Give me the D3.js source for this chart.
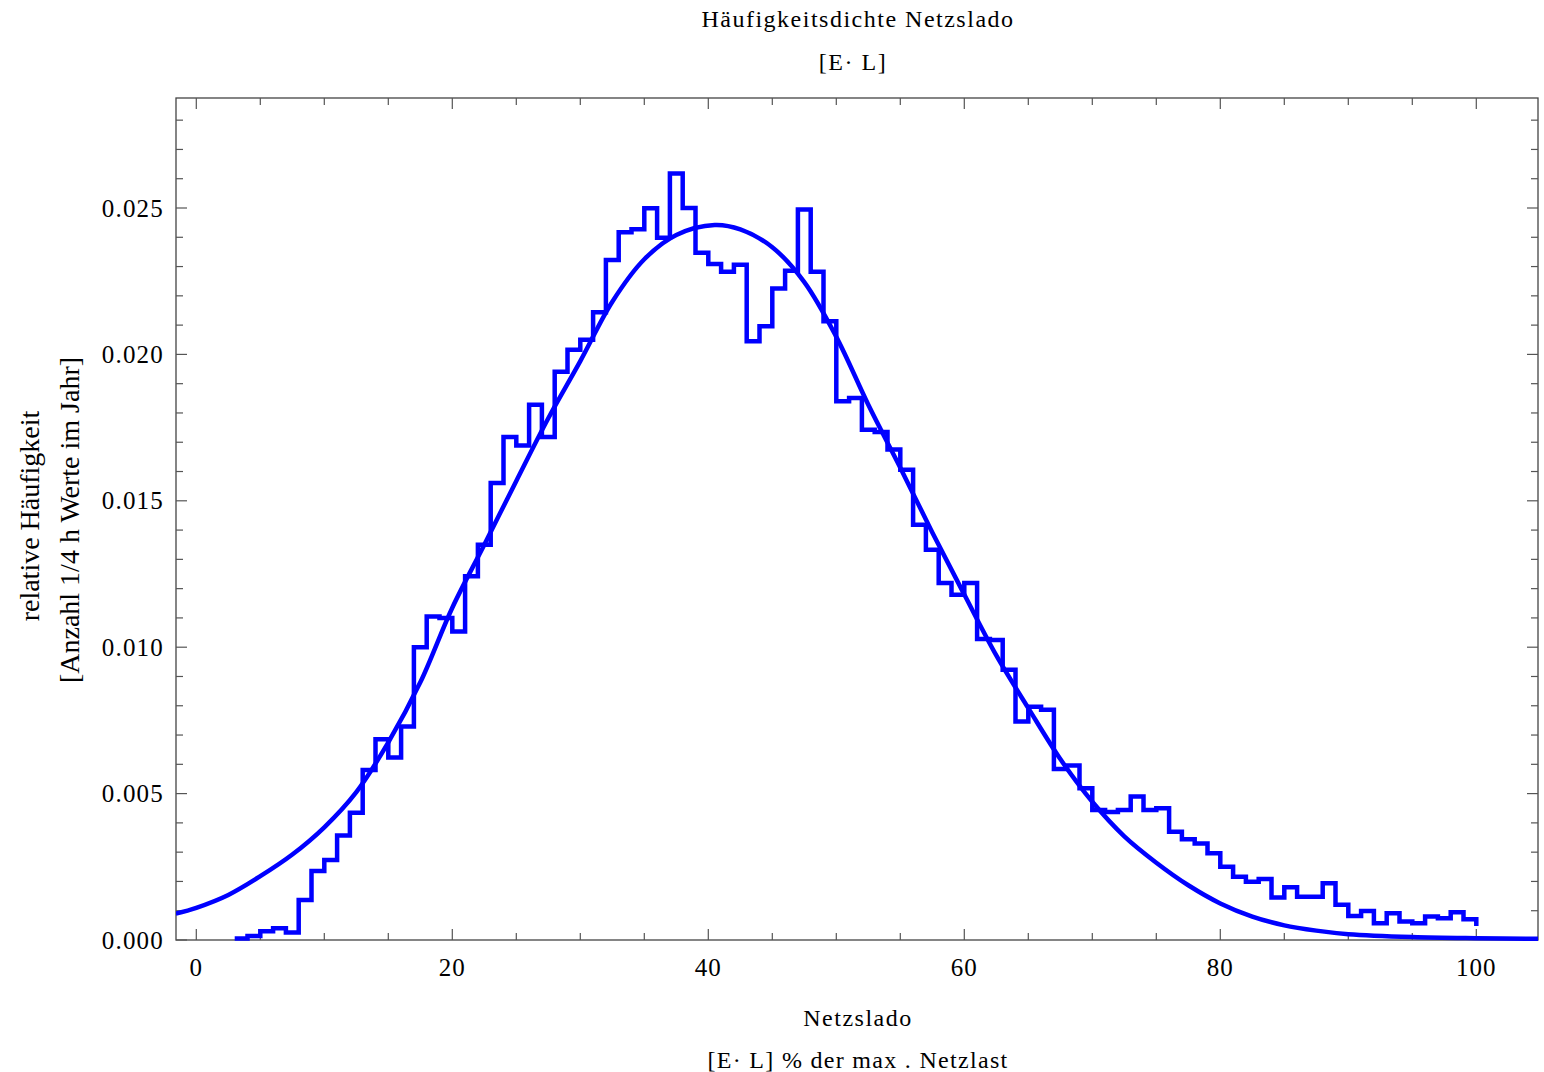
<!DOCTYPE html>
<html>
<head>
<meta charset="utf-8">
<script src="https://cdn.jsdelivr.net/npm/d3@7"></script>
<style>
  html, body { margin: 0; padding: 0; background: #fff; }
  text { font-family: "Liberation Serif", "DejaVu Serif", serif; fill: #000; }
</style>
</head>
<body>
<svg id="chart" width="1544" height="1072"></svg>
<script>
// Histogram: bins of width 1, starting at binStart
const binStart = 3;
const histValues = [
  0.00005, 0.00014, 0.00030, 0.00040, 0.00026, 0.00137, 0.00236, 0.00273, 0.00357, 0.00435, // 3-12
  0.00581, 0.00686, 0.00623, 0.00729, 0.01000, 0.01105, 0.01100, 0.01054, 0.01242, 0.01350, // 13-22
  0.01561, 0.01718, 0.01689, 0.01828, 0.01718, 0.01941, 0.02016, 0.02050, 0.02144, 0.02322, // 23-32
  0.02417, 0.02427, 0.02499, 0.02398, 0.02618, 0.02500, 0.02347, 0.02309, 0.02282, 0.02306, // 33-42
  0.02045, 0.02096, 0.02225, 0.02286, 0.02495, 0.02282, 0.02113, 0.01840, 0.01851, 0.01743, // 43-52
  0.01735, 0.01675, 0.01606, 0.01418, 0.01333, 0.01219, 0.01179, 0.01219, 0.01028, 0.01025, // 53-62
  0.00923, 0.00746, 0.00797, 0.00786, 0.00584, 0.00596, 0.00518, 0.00444, 0.00437, 0.00444, // 63-72
  0.00490, 0.00444, 0.00450, 0.00370, 0.00344, 0.00330, 0.00296, 0.00250, 0.00216, 0.00199, // 73-82
  0.00208, 0.00145, 0.00180, 0.00148, 0.00148, 0.00194, 0.00120, 0.00082, 0.00099, 0.00057, // 83-92
  0.00091, 0.00063, 0.00057, 0.00080, 0.00074, 0.00095, 0.00071                            // 93-99
];
const histEndValue = 0.00048;

// Fitted density curve
const curveX = [-1.6, 0, 2.5, 5, 7.5, 10, 12.5, 15, 17.5, 20, 22.5, 25, 27.5, 30, 32.5, 35, 37.5, 40.5,
  42.5, 45, 47.5, 50, 52.5, 55, 57.5, 60, 62.5, 65, 67.5, 70, 72.5, 75, 77.5, 80, 82.5, 85, 87.5, 90, 95, 100, 105];
const curveY = [0.00090, 0.00110, 0.00154, 0.00218, 0.00292, 0.00385, 0.00505, 0.00675, 0.00880, 0.01135,
  0.01350, 0.01568, 0.01782, 0.01977, 0.02180, 0.02325, 0.02408, 0.02442,
  0.02427, 0.02366, 0.02247, 0.02060, 0.01828, 0.01613, 0.01392, 0.01180, 0.00972, 0.00792, 0.00618,
  0.00472, 0.00354, 0.00264, 0.00187, 0.00125, 0.00080, 0.00050, 0.00032, 0.00020, 0.00010, 0.00006, 0.00004];

const xTicks = [0, 20, 40, 60, 80, 100];
const xTickLabels = ["0", "20", "40", "60", "80", "100"];
const yTicks = [0, 0.005, 0.010, 0.015, 0.020, 0.025];
const yTickLabels = ["0.000", "0.005", "0.010", "0.015", "0.020", "0.025"];

const titleLines = ["Häufigkeitsdichte Netzslado", "[E· L]"];
const xLabelLines = ["Netzslado", "[E· L] %  der max . Netzlast"];
const yLabelLines = ["relative Häufigkeit", "[Anzahl 1/4 h Werte im Jahr]"];

const svg = d3.select("#chart");
const L = 176, R = 1538, T = 98, B = 940;

const x = d3.scaleLinear().domain([0, 100]).range([196.3, 1476.3]);
const y = d3.scaleLinear().domain([0, 0.025]).range([B, 208]);

svg.append("rect").attr("width", 1544).attr("height", 1072).attr("fill", "#fff");

// Frame
svg.append("rect").attr("x", L).attr("y", T).attr("width", R - L).attr("height", B - T)
  .attr("fill", "none").attr("stroke", "#444").attr("stroke-width", 1.3);

// Ticks (frame ticks on all sides)
const tickColor = "#555";
const xMinor = d3.range(0, 105.01, 5);
const yMinor = d3.range(0, 0.02881, 0.001);
const tg = svg.append("g").attr("stroke", tickColor).attr("stroke-width", 1.2);
xMinor.forEach(v => {
  const major = Math.abs(v % 20) < 1e-9;
  const len = major ? 11 : 7;
  const px = x(v);
  if (px < L || px > R) return;
  tg.append("line").attr("x1", px).attr("x2", px).attr("y1", B).attr("y2", B - len);
  tg.append("line").attr("x1", px).attr("x2", px).attr("y1", T).attr("y2", T + len);
});
yMinor.forEach(v => {
  const major = Math.abs(Math.round(v * 1000) % 5) === 0;
  const len = major ? 11 : 7;
  const py = y(v);
  if (py < T || py > B) return;
  tg.append("line").attr("x1", L).attr("x2", L + len).attr("y1", py).attr("y2", py);
  tg.append("line").attr("x1", R).attr("x2", R - len).attr("y1", py).attr("y2", py);
});

// Tick labels
xTicks.forEach((v, i) => {
  svg.append("text").attr("x", x(v)).attr("y", 976).attr("text-anchor", "middle")
    .attr("font-size", 25).attr("letter-spacing", 1).text(xTickLabels[i]);
});
yTicks.forEach((v, i) => {
  svg.append("text").attr("x", 164).attr("y", y(v) + 8.5).attr("text-anchor", "end")
    .attr("font-size", 25).attr("letter-spacing", 1.2).text(yTickLabels[i]);
});

// Clip for plot content
svg.append("clipPath").attr("id", "clip").append("rect")
  .attr("x", L).attr("y", T).attr("width", R - L).attr("height", B - T + 3);

const plot = svg.append("g").attr("clip-path", "url(#clip)");

// Fitted curve
const line = d3.line().x((d, i) => x(curveX[i])).y(d => y(d)).curve(d3.curveCatmullRom.alpha(0.5));
plot.append("path").attr("d", line(curveY)).attr("fill", "none")
  .attr("stroke", "#0000ff").attr("stroke-width", 4.5).attr("stroke-linejoin", "round");

// Histogram as step line
const pts = [];
histValues.forEach((v, i) => {
  pts.push([binStart + i, v]);
  pts.push([binStart + i + 1, v]);
});
pts.push([binStart + histValues.length, histEndValue]);
const stepLine = d3.line().x(d => x(d[0])).y(d => y(d[1]));
plot.append("path").attr("d", stepLine(pts)).attr("fill", "none")
  .attr("stroke", "#0000ff").attr("stroke-width", 4.5).attr("stroke-linejoin", "miter");

// Titles
const cx = 858;
svg.append("text").attr("x", cx).attr("y", 27).attr("text-anchor", "middle")
  .attr("font-size", 24).attr("letter-spacing", 1.5).text(titleLines[0]);
svg.append("text").attr("x", 853).attr("y", 70).attr("text-anchor", "middle")
  .attr("font-size", 24).attr("letter-spacing", 1.5).text(titleLines[1]);

svg.append("text").attr("x", cx).attr("y", 1026).attr("text-anchor", "middle")
  .attr("font-size", 24).attr("letter-spacing", 1.5).text(xLabelLines[0]);
svg.append("text").attr("x", cx).attr("y", 1068).attr("text-anchor", "middle")
  .attr("font-size", 24).attr("letter-spacing", 1.3).text(xLabelLines[1]);

svg.append("text").attr("transform", "translate(39,516) rotate(-90)").attr("text-anchor", "middle")
  .attr("font-size", 28).text(yLabelLines[0]);
svg.append("text").attr("transform", "translate(79,520) rotate(-90)").attr("text-anchor", "middle")
  .attr("font-size", 28).text(yLabelLines[1]);
</script>
</body>
</html>
